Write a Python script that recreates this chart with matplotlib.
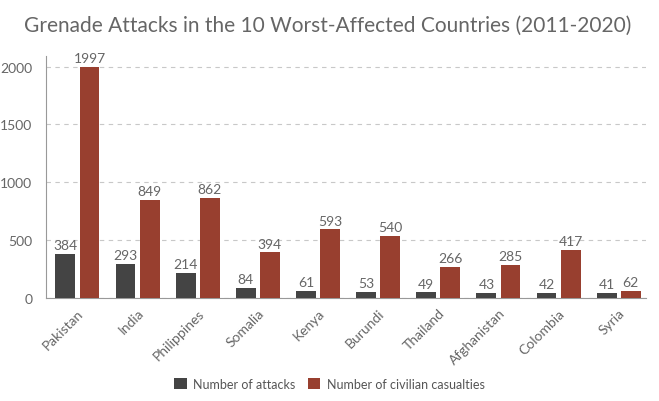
import matplotlib.pyplot as plt
import numpy as np

plt.rcParams['font.family'] = ['Lato', 'DejaVu Sans']

countries = ["Pakistan", "India", "Philippines", "Somalia", "Kenya",
             "Burundi", "Thailand", "Afghanistan", "Colombia", "Syria"]
attacks = [384, 293, 214, 84, 61, 53, 49, 43, 42, 41]
casualties = [1997, 849, 862, 394, 593, 540, 266, 285, 417, 62]

DARK = "#444444"
RED = "#983f2f"
TXT = "#666666"

fig = plt.figure(figsize=(6.59, 4.02), dpi=100)
ax = fig.add_axes([0.07, 0.256, 0.91, 0.602])

x = np.arange(len(countries))
w = 0.33
b1 = ax.bar(x - 0.2, attacks, w, color=DARK, label="Number of attacks", zorder=3)
b2 = ax.bar(x + 0.2, casualties, w, color=RED, label="Number of civilian casualties", zorder=3)

for bars in (b1, b2):
    for r in bars:
        ax.text(r.get_x() + r.get_width() / 2, r.get_height() + 25, str(int(r.get_height())),
                ha="center", va="bottom", fontsize=10, color=TXT)

ax.set_xlim(-0.52, 9.45)
ax.set_ylim(0, 2090)
ax.set_yticks([0, 500, 1000, 1500, 2000])
ax.yaxis.grid(True, linestyle=(0, (4, 4)), color="#c8c8c8", linewidth=0.8, zorder=0)

ax.set_xticks(x)
ax.set_xticklabels(countries, rotation=45, ha="right", rotation_mode="anchor")
ax.tick_params(axis="both", length=0, labelsize=10, labelcolor=TXT)
ax.tick_params(axis="y", pad=10)
ax.tick_params(axis="x", pad=6)

for s in ("top", "right"):
    ax.spines[s].set_visible(False)
ax.spines["left"].set_color("#999999")
ax.spines["bottom"].set_color("#999999")

fig.suptitle("Grenade Attacks in the 10 Worst-Affected Countries (2011-2020)",
             x=0.497, y=0.96, fontsize=15, color=TXT)

fig.legend(loc="lower center", ncol=2, frameon=False, fontsize=9,
           bbox_to_anchor=(0.5, 0.0), handlelength=1.0, handleheight=1.0,
           columnspacing=1.0, handletextpad=0.5, labelcolor="#555555")

fig.savefig("out.png", dpi=100)
